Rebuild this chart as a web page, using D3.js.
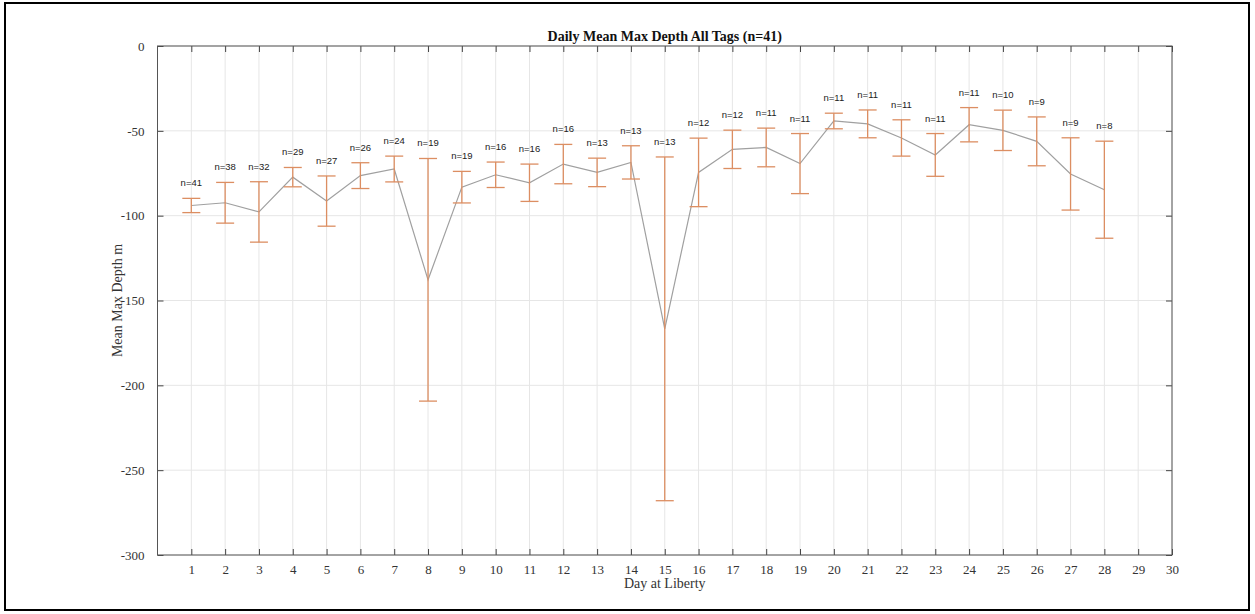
<!DOCTYPE html>
<html><head><meta charset="utf-8">
<script src="https://cdn.jsdelivr.net/npm/d3@7"></script>
<style>body{margin:0;background:#fff;} svg{display:block;}</style>
</head><body>
<svg id="c" width="1255" height="614"></svg>
<script>
const days = [1,2,3,4,5,6,7,8,9,10,11,12,13,14,15,16,17,18,19,20,21,22,23,24,25,26,27,28];
const meanDepth = [-94,-92.4,-97.8,-77.3,-91.4,-76.4,-72.5,-137.8,-83.2,-75.9,-80.6,-69.6,-74.5,-68.6,-166.7,-74.5,-60.9,-59.8,-69.3,-44.2,-45.9,-54.2,-64.2,-46.4,-49.7,-56.2,-75.4,-84.7];
const errDepth = [4.2,12,17.8,5.7,14.8,7.6,7.6,71.5,9.3,7.5,11,11.6,8.4,9.8,101.3,20.2,11.3,11.4,17.7,4.6,8.2,10.7,12.6,10.1,11.9,14.4,21.3,28.6];
const nTags = [41,38,32,29,27,26,24,19,19,16,16,16,13,13,13,12,12,11,11,11,11,11,11,11,10,9,9,8];
const xTicks = d3.range(1,31);
const yTicks = [0,-50,-100,-150,-200,-250,-300];

const svg = d3.select("#c");
svg.append("rect").attr("x",5).attr("y",3).attr("width",1244).attr("height",607)
  .attr("fill","#fff").attr("stroke","#000").attr("stroke-width",2);

const L=157.5, R=1172, T=46, B=555;
const x = d3.scaleLinear().domain([0,30]).range([L,R]);
const y = d3.scaleLinear().domain([-300,0]).range([B,T]);

// grid
const g = svg.append("g");
g.selectAll(".gx").data(xTicks).join("line")
  .attr("x1",d=>x(d)).attr("x2",d=>x(d)).attr("y1",T).attr("y2",B)
  .attr("stroke","#e6e6e6").attr("stroke-width",1);
g.selectAll(".gy").data(yTicks).join("line")
  .attr("y1",d=>y(d)).attr("y2",d=>y(d)).attr("x1",L).attr("x2",R)
  .attr("stroke","#e6e6e6").attr("stroke-width",1);

// axes
const serif = "'Liberation Serif','Times New Roman',serif";
const fmt = d => String(d);
const axB = d3.axisBottom(x).tickValues(xTicks).tickSize(-6).tickPadding(10).tickFormat(fmt);
const axT = d3.axisTop(x).tickValues(xTicks).tickSize(-6).tickFormat("");
const axL = d3.axisLeft(y).tickValues(yTicks).tickSize(-6).tickPadding(13).tickFormat(fmt);
const axR = d3.axisRight(y).tickValues(yTicks).tickSize(-6).tickFormat("");
function style(sel){
  sel.select(".domain").remove();
  sel.selectAll("line").attr("stroke","#444");
  sel.selectAll("text").attr("fill","#333").style("font-family",serif).style("font-size","13px");
}
svg.append("g").attr("transform",`translate(0,${B})`).call(axB).call(style);
svg.append("g").attr("transform",`translate(0,${T})`).call(axT).call(style);
svg.append("g").attr("transform",`translate(${L},0)`).call(axL).call(style);
svg.append("g").attr("transform",`translate(${R},0)`).call(axR).call(style);
svg.append("rect").attr("x",L).attr("y",T).attr("width",R-L).attr("height",B-T)
  .attr("fill","none").attr("stroke","#555").attr("stroke-width",1);

// line
svg.append("path").datum(days)
  .attr("d", d3.line().x(d=>x(d)).y((d,i)=>y(meanDepth[i])))
  .attr("fill","none").attr("stroke","#a0a0a0").attr("stroke-width",1.2);

// error bars
const eb = svg.append("g").attr("stroke","#dc8e62").attr("stroke-width",1.3);
days.forEach((d,i)=>{
  const cx = x(d), y1 = y(meanDepth[i]+errDepth[i]), y2 = y(meanDepth[i]-errDepth[i]);
  eb.append("line").attr("x1",cx).attr("x2",cx).attr("y1",y1).attr("y2",y2);
  eb.append("line").attr("x1",cx-9).attr("x2",cx+9).attr("y1",y1).attr("y2",y1);
  eb.append("line").attr("x1",cx-9).attr("x2",cx+9).attr("y1",y2).attr("y2",y2);
});

// n labels
svg.selectAll(".nl").data(days).join("text")
  .attr("x",d=>x(d)).attr("y",(d,i)=>y(meanDepth[i]+errDepth[i])-12)
  .attr("text-anchor","middle").attr("fill","#222")
  .style("font-family","'Liberation Sans',Arial,sans-serif").style("font-size","9.5px")
  .text((d,i)=>"n="+nTags[i]);

// title & labels
svg.append("text").attr("x",(L+R)/2).attr("y",41).attr("text-anchor","middle")
  .style("font-family",serif).style("font-size","14px").style("font-weight","bold").attr("fill","#111")
  .text("Daily Mean Max Depth All Tags (n=41)");
svg.append("text").attr("x",(L+R)/2).attr("y",588).attr("text-anchor","middle")
  .style("font-family",serif).style("font-size","14px").attr("fill","#333")
  .text("Day at Liberty");
svg.append("text").attr("transform",`translate(122,${(T+B)/2}) rotate(-90)`).attr("text-anchor","middle")
  .style("font-family",serif).style("font-size","14px").attr("fill","#333")
  .text("Mean Max Depth m");
</script>
</body></html>
